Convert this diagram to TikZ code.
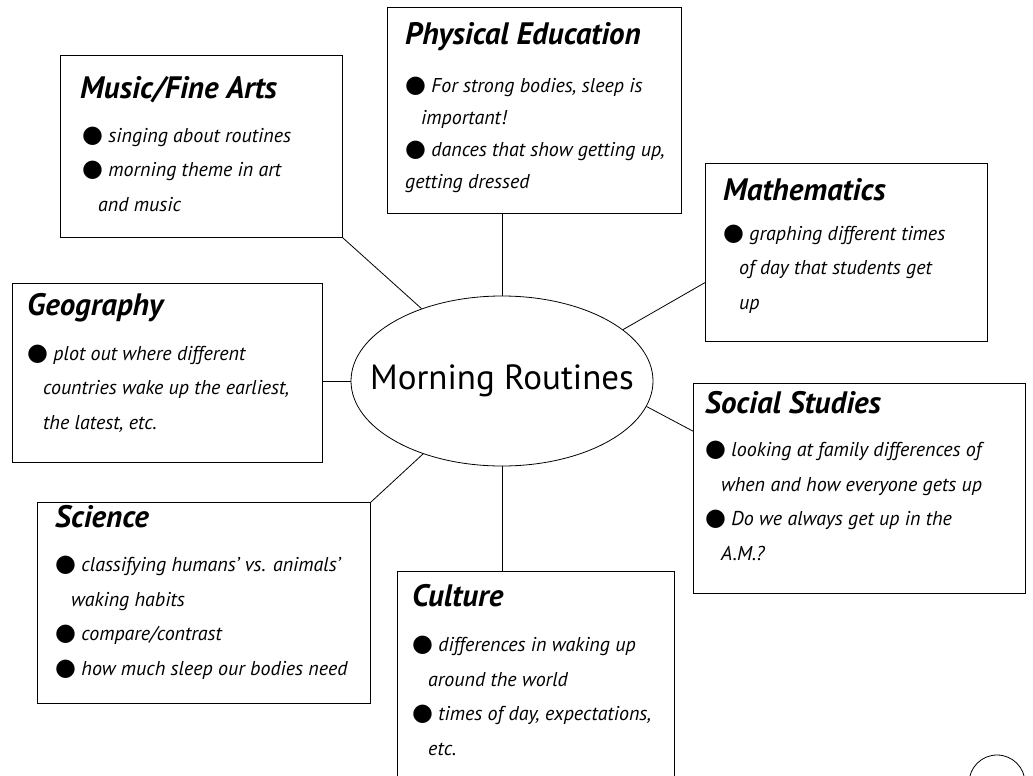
\documentclass[tikz,border=0pt]{standalone}
\usepackage{fontspec}
\setmainfont{PT Sans}
\newfontfamily\dotfont{DejaVu Sans}
\usetikzlibrary{shapes.geometric}

\newcommand{\bul}{{\dotfont\fontsize{24}{24}\selectfont ●}\ }
\newcommand{\cont}{\hspace*{16pt}}

\tikzset{
  topic/.style={draw, line width=1pt, anchor=north west, inner sep=0pt},
  head/.style={anchor=base west, inner sep=0pt, font=\fontsize{31}{36}\selectfont\bfseries\itshape},
  body/.style={anchor=base west, inner sep=0pt, align=left, font=\fontsize{20}{34.5}\selectfont\itshape},
  link/.style={line width=0.8pt}
}

\begin{document}
\begin{tikzpicture}[x=1pt,y=-1pt]

  \useasboundingbox (0,0) rectangle (1033,776);

  % centre
  \node[ellipse, draw, line width=0.8pt, inner sep=0pt, minimum width=302pt, minimum height=170pt, font=\fontsize{35}{40}\selectfont] (morning) at (502,381) {\makebox[0pt]{Morning Routines}};

  % boxes (body nodes sit on the baseline of their last line)
  \node[topic, minimum width=282pt, minimum height=182pt] (music) at (60,55) {};
  \node[head] (musich) at (80,98) {Music/Fine Arts};
  \node[body] (musicb) at (82,211) {\bul singing about routines\\ \bul morning theme in art\\ \cont and music};

  \node[topic, minimum width=294pt, minimum height=206pt] (pe) at (387,7) {};
  \node[head] (peh) at (405,45) {Physical Education};
  \node[body, font=\fontsize{20}{32}\selectfont\itshape] (peb) at (405,188) {\bul For strong bodies, sleep is\\ \cont important!\\ \bul dances that show getting up,\\ getting dressed};

  \node[topic, minimum width=282pt, minimum height=178pt] (math) at (705,163) {};
  \node[head] (mathh) at (723,200) {Mathematics};
  \node[body] (mathb) at (723,309) {\bul graphing different times\\ \cont of day that students get\\ \cont up};

  \node[topic, minimum width=310pt, minimum height=179pt] (geo) at (12,283) {};
  \node[head] (geoh) at (27,315) {Geography};
  \node[body] (geob) at (27,429) {\bul plot out where different\\ \cont countries wake up the earliest,\\ \cont the latest, etc.};

  \node[topic, minimum width=332pt, minimum height=210pt] (social) at (693,383) {};
  \node[head] (socialh) at (705,413) {Social Studies};
  \node[body] (socialb) at (705,560) {\bul looking at family differences of\\ \cont when and how everyone gets up\\ \bul Do we always get up in the\\ \cont A.M.?};

  \node[topic, minimum width=333pt, minimum height=201pt] (science) at (37,502) {};
  \node[head] (scienceh) at (55,527) {Science};
  \node[body] (scienceb) at (55,675) {\bul classifying humans' vs. animals'\\ \cont waking habits\\ \bul compare/contrast\\ \bul how much sleep our bodies need};

  \node[topic, minimum width=277pt, minimum height=230pt] (culture) at (397,571) {};
  \node[head] (cultureh) at (412,606) {Culture};
  \node[body] (cultureb) at (412,755) {\bul differences in waking up\\ \cont around the world\\ \bul times of day, expectations,\\ \cont etc.};

  \node[circle, draw, line width=0.8pt, minimum size=56pt] (page) at (997,783) {};

  % spokes
  \draw[link] (music.south east) -- (morning);
  \draw[link] (morning.north) -- (morning.north |- pe.south);
  \draw[link] (morning.23) -- (math.192);
  \draw[link] (morning.west) -- (morning.west -| geo.east);
  \draw[link] (morning.-10) -- (social.161);
  \draw[link] (science.north east) -- (morning);
  \draw[link] (morning.south) -- (morning.south |- culture.north);

\end{tikzpicture}
\end{document}
